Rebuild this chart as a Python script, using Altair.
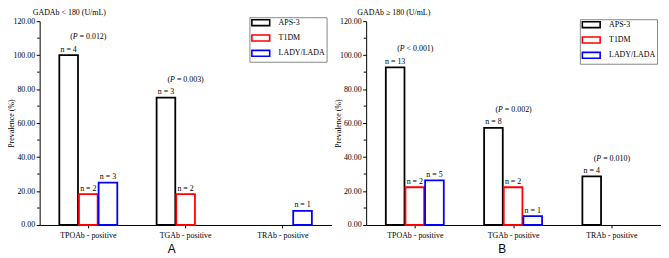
import altair as alt
import pandas as pd

SERIF = "Liberation Serif"
SANS = "Liberation Sans"

categories = ["TPOAb - positive", "TGAb - positive", "TRAb - positive"]
series = ["APS-3", "T1DM", "LADY/LADA"]
colors = ["#000000", "#ff0000", "#0000ff"]

# Panel A: GADAb < 180
a_aps = [100.0, 75.0, 0.0]
a_t1dm = [18.18, 18.18, 0.0]
a_lada = [25.0, 0.0, 8.33]
a_n_aps = [4, 3, 0]
a_n_t1dm = [2, 2, 0]
a_n_lada = [3, 0, 1]
a_p = ["= 0.012", "= 0.003", ""]

# Panel B: GADAb >= 180
b_aps = [92.86, 57.14, 28.57]
b_t1dm = [22.22, 22.22, 0.0]
b_lada = [26.32, 5.26, 0.0]
b_n_aps = [13, 8, 4]
b_n_t1dm = [2, 2, 0]
b_n_lada = [5, 1, 0]
b_p = ["< 0.001", "= 0.002", "= 0.010"]

y_ticks = [0, 20, 40, 60, 80, 100, 120]
y_minor = [10, 30, 50, 70, 90, 110]


def panel(aps, t1, lada, naps, nt1, nlada, pvals, title, letter, width,
          title_dx, letter_x, leg_x, leg_y):
    rows = []
    for s, vals, ns in zip(series, [aps, t1, lada], [naps, nt1, nlada]):
        for c, v, n in zip(categories, vals, ns):
            if n > 0:
                rows.append({"cat": c, "series": s, "value": v, "label": f"n = {n}"})
    bars_df = pd.DataFrame(rows)
    p_df = pd.DataFrame([{"cat": c, "value": v, "open": "(", "p": "P", "rest": f"{p})"}
                         for c, v, p in zip(categories, aps, pvals) if p])
    minor_df = pd.DataFrame({"value": y_minor})
    title_df = pd.DataFrame({"t": [title]})

    x = alt.X("cat:N", sort=categories,
              scale=alt.Scale(domain=categories, paddingInner=0, paddingOuter=0),
              axis=alt.Axis(title=letter, labelAngle=0, tickSize=3, labelPadding=4,
                            labelFontSize=8, labelFont=SERIF, labelOverlap=False,
                            titleFont=SANS, titleFontSize=12, titleFontWeight="normal",
                            titlePadding=4, titleX=letter_x))
    y = alt.Y("value:Q", scale=alt.Scale(domain=[0, 120], nice=False),
              axis=alt.Axis(values=y_ticks, format=".2f", title="Prevalence (%)",
                            tickSize=3.5, labelPadding=1.5, labelFontSize=8,
                            labelFont=SERIF, labelOverlap=False, labelFlush=False,
                            titleFont=SERIF, titleFontSize=8, titleFontWeight="normal",
                            titleX=-24))
    xo = alt.XOffset("series:N", sort=series,
                     scale=alt.Scale(domain=series, paddingInner=0.05, paddingOuter=1.0))
    stroke = alt.Stroke("series:N", sort=series,
                        scale=alt.Scale(domain=series, range=colors),
                        legend=alt.Legend(title=None, orient="none", legendX=leg_x, legendY=leg_y,
                                          symbolType="M-3,-1H3V1H-3Z", symbolSize=36,
                                          symbolOffset=6, symbolStrokeWidth=1.6,
                                          symbolFillColor="white",
                                          labelFont=SERIF, labelFontSize=8, labelColor="black",
                                          strokeColor="#888888", fillColor="white",
                                          padding=1.5, rowPadding=1.5, labelOffset=14))

    bars = alt.Chart(bars_df).mark_bar(fill="white", strokeWidth=1.8).encode(
        x=x, y=y, xOffset=xo, stroke=stroke)
    nlab = alt.Chart(bars_df).mark_text(font=SERIF, fontSize=8, baseline="alphabetic",
                                        dy=-3.5, color="black").encode(
        x=x, y=y, xOffset=xo, text="label:N")
    p_open = alt.Chart(p_df).mark_text(font=SERIF, fontSize=8, baseline="alphabetic",
                                       align="right", dx=-15.7, dy=-16, color="black").encode(
        x=x, y=y, text="open:N")
    p_p = alt.Chart(p_df).mark_text(font=SERIF, fontSize=8, baseline="alphabetic",
                                    fontStyle="italic", align="left", dx=-15.7, dy=-16,
                                    color="black").encode(
        x=x, y=y, text="p:N")
    p_rest = alt.Chart(p_df).mark_text(font=SERIF, fontSize=8, baseline="alphabetic",
                                       align="left", dx=-8.8, dy=-16, color="black").encode(
        x=x, y=y, text="rest:N")
    minor = alt.Chart(minor_df).mark_rule(color="black", strokeWidth=1).encode(
        y=y, x=alt.value(0), x2=alt.value(-2.5))
    ttl = alt.Chart(title_df).mark_text(font=SERIF, fontSize=8, baseline="alphabetic",
                                        align="left", color="black").encode(
        text="t:N", x=alt.value(title_dx), y=alt.value(-6))

    return alt.layer(bars, nlab, p_open, p_p, p_rest, minor, ttl).properties(
        width=width, height=206)


pa = panel(a_aps, a_t1dm, a_lada, a_n_aps, a_n_t1dm, a_n_lada, a_p,
           "GADAb < 180 (U/mL)", "A", 295, -7, 133, 212, -4)
pb = panel(b_aps, b_t1dm, b_lada, b_n_aps, b_n_t1dm, b_n_lada, b_p,
           "GADAb ≥ 180 (U/mL)", "B", 298, -9, 137, 216, -2)

chart = alt.hconcat(pa, pb, spacing=3).resolve_scale(
    stroke="independent").resolve_legend(stroke="independent").properties(
    padding={"left": 0, "top": 0, "right": 0, "bottom": 0}
).configure_view(stroke=None).configure_axis(
    domainColor="black", tickColor="black", labelColor="black", titleColor="black",
    grid=False, domainWidth=1, tickWidth=1, labelOverlap=False)

chart.save("out.html", embed_options={"renderer": "svg", "actions": False})
